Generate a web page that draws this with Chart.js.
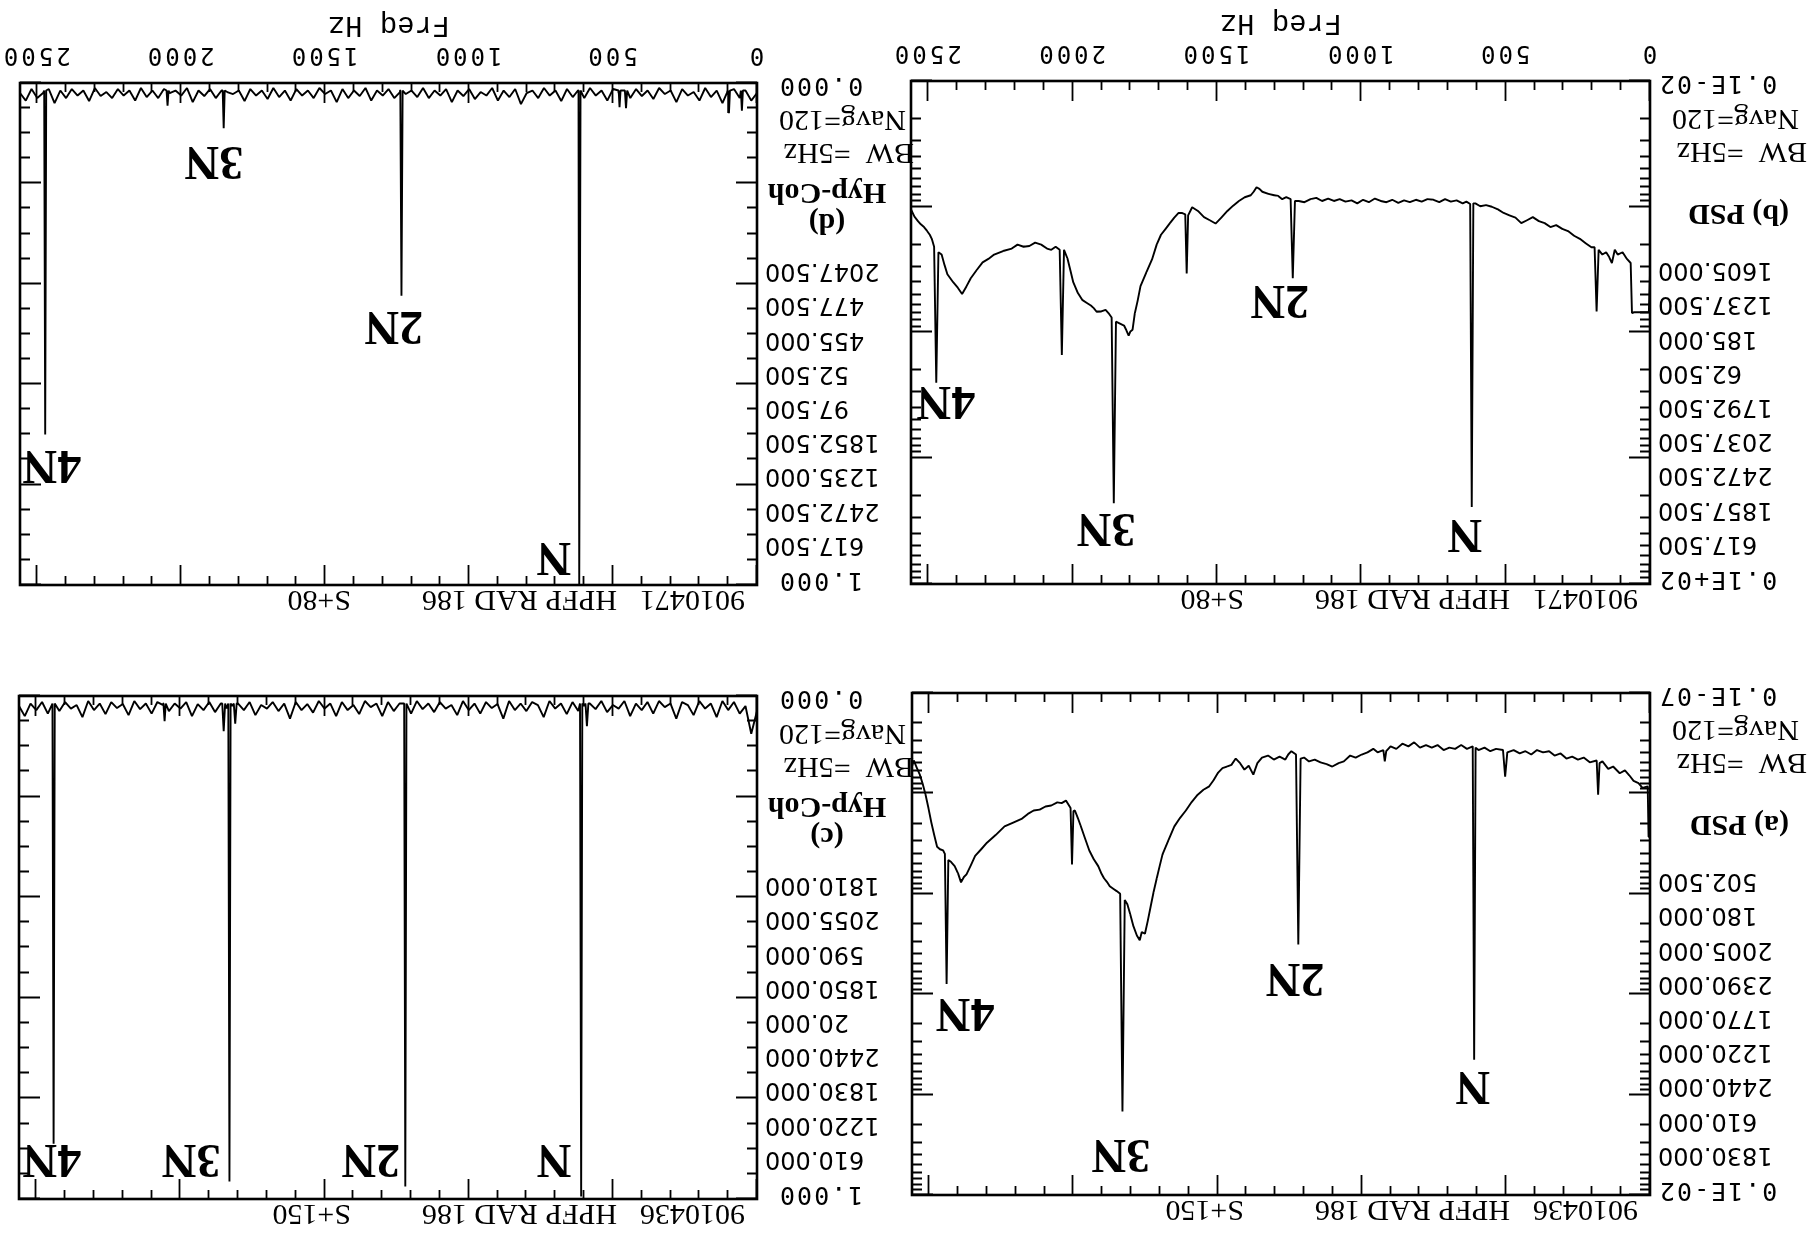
<!DOCTYPE html>
<html><head><meta charset="utf-8">
<script src="https://cdn.jsdelivr.net/npm/chart.js@4.4.1/dist/chart.umd.min.js"></script>
<style>
html,body{margin:0;padding:0;background:#fff;overflow:hidden;}
#fig{position:absolute;left:0;top:0;width:1816px;height:1246px;transform:rotate(180deg);transform-origin:50% 50%;background:#fff;}
#fig canvas{position:absolute;left:0;top:0;}
</style></head><body>
<div id="fig">
<canvas id="pa" width="1816" height="1246"></canvas>
<canvas id="pb" width="1816" height="1246"></canvas>
<canvas id="pc" width="1816" height="1246"></canvas>
<canvas id="pd" width="1816" height="1246"></canvas>
</div>
<script>
// ---------- DATA ----------
// (a) PSD, run 9010436  (frequency Hz, PSD)
const freqA = [0,5,8,26,40,57,72,87,105,128,145,165,175,180,185,209,230,250,270,290,310,331,350,371,392,412,432,452,473,495,502.5,510,534,554,574,595,605,610,615,635,655,676,696,716,737,757,777,798,818,838,859,880,900,915,920,925,945,960,980,1000,1021,1040,1062,1080,1102,1122,1143,1163,1183,1200,1212,1220,1228,1244,1255,1265,1285,1305,1325,1346,1362,1376,1392,1407,1422,1437,1452,1468,1483,1498,1514,1529,1549,1569,1590,1610,1630,1650,1670,1691,1701,1711,1722,1732,1742,1752,1763,1770,1780,1792,1803,1813,1822,1830,1838,1850,1862,1874,1884,1894,1904,1914,1930,1945,1960,1975,1985,1995,2000,2005,2010,2026,2041,2056,2077,2097,2117,2138,2158,2178,2209,2239,2270,2300,2320,2341,2356,2371,2380,2390,2400,2412,2425,2434,2440,2446,2452,2463,2473,2483,2493,2503,2513,2523,2533,2544,2554,2560];
const psdA = [2.7e-7,2.7e-7,8.5e-8,8.8e-8,7.9e-8,7.5e-8,6.6e-8,5.9e-8,6.3e-8,5.4e-8,5.7e-8,4.8e-8,5.0e-8,1.03e-7,4.7e-8,4.9e-8,4.4e-8,4.6e-8,4.3e-8,4.5e-8,4.0e-8,4.2e-8,3.8e-8,3.9e-8,3.7e-8,4.1e-8,3.8e-8,4.0e-8,3.7e-8,3.9e-8,6.8e-8,3.7e-8,3.6e-8,3.8e-8,3.5e-8,3.7e-8,3.5e-8,4.5e-5,3.4e-8,3.6e-8,3.3e-8,3.6e-8,3.5e-8,3.7e-8,3.3e-8,3.5e-8,3.3e-8,3.5e-8,3.1e-8,3.4e-8,3.2e-8,3.6e-8,3.4e-8,3.8e-8,4.8e-8,3.7e-8,3.9e-8,3.6e-8,3.9e-8,4.1e-8,4.4e-8,4.2e-8,4.8e-8,5.0e-8,5.4e-8,5.1e-8,4.9e-8,4.6e-8,4.8e-8,4.4e-8,4.5e-8,3.2e-6,4.1e-8,3.8e-8,4.1e-8,4.6e-8,4.3e-8,4.6e-8,4.2e-8,4.4e-8,5.0e-8,6.5e-8,5.3e-8,5.8e-8,5.0e-8,4.5e-8,5.2e-8,5.4e-8,5.6e-8,6.2e-8,7.4e-8,8.5e-8,9.2e-8,1.03e-7,1.22e-7,1.48e-7,1.75e-7,2.13e-7,2.9e-7,4.05e-7,5.3e-7,7.0e-7,9.6e-7,1.33e-6,1.85e-6,2.5e-6,2.4e-6,2.9e-6,2.6e-6,2.1e-6,1.6e-6,1.27e-6,1.15e-6,1.47e-4,1.0e-6,9.4e-7,8.9e-7,8.4e-7,7.6e-7,7.0e-7,6.2e-7,5.3e-7,4.5e-7,3.7e-7,2.8e-7,2.1e-7,1.75e-7,1.48e-7,1.5e-7,5.1e-7,1.4e-7,1.18e-7,1.25e-7,1.23e-7,1.32e-7,1.35e-7,1.45e-7,1.48e-7,1.6e-7,1.78e-7,1.95e-7,2.13e-7,2.6e-7,3.1e-7,3.6e-7,4.2e-7,5.2e-7,6.4e-7,6.8e-7,7.7e-7,6.3e-7,5.3e-7,4.8e-7,4.6e-7,7.9e-6,4.0e-7,3.7e-7,3.6e-7,3.4e-7,2.6e-7,1.95e-7,1.4e-7,1.03e-7,8.0e-8,6.5e-8,5.5e-8,4.7e-8,5.4e-8];

// (b) PSD, run 9010471
const freqB = [0,4,30,55,62.5,67,80,95,112,122,132,142,152,165,178,185,192,203,223,243,263,284,304,325,345,365,385,406,426,446,466,487,507,527,548,568,588,605,612,617.5,623,636,649,670,690,710,730,750,771,791,811,832,852,872,893,913,933,953,974,994,1014,1034,1055,1075,1095,1115,1136,1156,1176,1197,1217,1230,1237.5,1245,1260,1274,1288,1302,1322,1343,1353,1363,1373,1383,1404,1424,1444,1464,1485,1505,1525,1545,1566,1586,1600,1605,1610,1622,1633,1648,1663,1678,1694,1709,1724,1744,1765,1775,1785,1792.5,1800,1806,1814,1822,1836,1850,1857.5,1865,1876,1886,1901,1917,1927,1937,1952,1967,1983,1998,2008,2018,2030,2037.5,2045,2059,2074,2089,2109,2130,2150,2170,2191,2211,2241,2272,2292,2312,2333,2353,2368,2383,2398,2414,2424,2434,2444,2454,2465,2472.5,2480,2488,2495,2505,2515,2526,2536,2548,2560];
const psdB = [3.4e-2,6.9e-2,6.9e-2,6.9e-2,7.0e-2,2.8e-2,2.6e-2,2.3e-2,2.4e-2,2.2e-2,2.8e-2,2.5e-2,2.3e-2,2.4e-2,2.2e-2,6.8e-2,2.1e-2,2.1e-2,1.95e-2,1.8e-2,1.7e-2,1.56e-2,1.5e-2,1.4e-2,1.45e-2,1.35e-2,1.3e-2,1.21e-2,1.28e-2,1.35e-2,1.22e-2,1.17e-2,1.12e-2,1.05e-2,1.0e-2,9.7e-3,9.9e-3,9.4e-3,9.4e-3,2.44,9.5e-3,9.1e-3,9.4e-3,8.9e-3,9.1e-3,8.7e-3,9.2e-3,8.8e-3,8.7e-3,9.1e-3,8.8e-3,9.2e-3,8.9e-3,9.3e-3,8.8e-3,9.2e-3,9.0e-3,8.6e-3,9.2e-3,8.8e-3,9.4e-3,8.9e-3,9.1e-3,8.7e-3,9.0e-3,8.6e-3,9.0e-3,8.5e-3,8.7e-3,9.2e-3,9.0e-3,9.0e-3,3.7e-2,8.7e-3,8.4e-3,8.7e-3,8.2e-3,8.1e-3,7.9e-3,7.6e-3,7.2e-3,7.0e-3,7.6e-3,8.1e-3,8.4e-3,9.0e-3,9.8e-3,1.08e-2,1.22e-2,1.36e-2,1.28e-2,1.21e-2,1.08e-2,1.01e-2,1.17e-2,3.4e-2,1.15e-2,1.12e-2,1.12e-2,1.22e-2,1.35e-2,1.5e-2,1.67e-2,2.0e-2,2.58e-2,3.3e-2,4.28e-2,5.6e-2,7.1e-2,9.5e-2,9.8e-2,1.06e-1,9.6e-2,8.8e-2,8.5e-2,8.2e-2,2.28,7.6e-2,7.0e-2,6.6e-2,6.8e-2,6.84e-2,6.4e-2,6.1e-2,5.8e-2,5.5e-2,4.8e-2,3.98e-2,3.2e-2,2.58e-2,2.2e-2,1.51e-1,2.2e-2,2.08e-2,2.2e-2,2.15e-2,2.0e-2,1.93e-2,2.05e-2,2.08e-2,2.0e-2,2.15e-2,2.25e-2,2.4e-2,2.6e-2,2.77e-2,3.2e-2,3.7e-2,4.3e-2,4.94e-2,4.4e-2,3.98e-2,3.7e-2,3.44e-2,2.9e-2,2.4e-2,2.3e-2,2.51e-1,2.08e-2,1.8e-2,1.67e-2,1.55e-2,1.45e-2,1.38e-2,1.3e-2,1.2e-2,1.05e-2];

// Coherence: 20 Hz grid values plus the narrow lines
const cohGridHz = [0,20,40,60,80,100,120,140,160,180,
200,220,240,260,280,300,320,340,360,380,
400,420,440,460,480,500,520,540,560,580,
600,620,640,660,680,700,720,740,760,780,
800,820,840,860,880,900,920,940,960,980,
1000,1020,1040,1060,1080,1100,1120,1140,1160,1180,
1200,1220,1240,1260,1280,1300,1320,1340,1360,1380,
1400,1420,1440,1460,1480,1500,1520,1540,1560,1580,
1600,1620,1640,1660,1680,1700,1720,1740,1760,1780,
1800,1820,1840,1860,1880,1900,1920,1940,1960,1980,
2000,2020,2040,2060,2080,2100,2120,2140,2160,2180,
2200,2220,2240,2260,2280,2300,2320,2340,2360,2380,
2400,2420,2440,2460,2480,2500,2520,2540,2560];
const cohC = [0.03,0.075,0.02,0.035,0.012,0.028,0.01,0.042,0.015,0.025,
0.01,0.038,0.018,0.012,0.045,0.015,0.022,0.01,0.035,0.012,
0.028,0.015,0.04,0.01,0.025,0.018,0.032,0.01,0.026,0.015,
0.02,0.03,0.012,0.036,0.015,0.025,0.01,0.042,0.018,0.012,
0.03,0.015,0.028,0.01,0.045,0.016,0.024,0.012,0.035,0.015,
0.028,0.01,0.038,0.018,0.025,0.012,0.032,0.015,0.026,0.01,
0.035,0.02,0.015,0.03,0.012,0.04,0.015,0.022,0.01,0.036,
0.018,0.028,0.012,0.04,0.015,0.025,0.01,0.033,0.016,0.028,
0.012,0.045,0.015,0.03,0.012,0.025,0.018,0.038,0.012,0.028,
0.015,0.02,0.025,0.015,0.032,0.012,0.028,0.016,0.04,0.012,
0.025,0.015,0.03,0.018,0.012,0.035,0.015,0.026,0.01,0.038,
0.016,0.024,0.012,0.036,0.015,0.028,0.01,0.042,0.018,0.025,
0.012,0.03,0.02,0.035,0.012,0.028,0.015,0.04,0.02];
const lineHzC  = [585,590,595,606,610,614,1216,1220,1224,1805,1810,1815,1826,1830,1834,1845,1850,1855,2051,2055,2059,2436,2440,2444];
const lineValC = [0.015,0.06,0.015,0.015,0.995,0.015,0.015,0.975,0.015,0.015,0.055,0.015,0.015,0.965,0.015,0.015,0.07,0.015,0.015,0.05,0.015,0.015,0.89,0.015];
const cohD = [0.02,0.035,0.015,0.03,0.012,0.025,0.04,0.015,0.028,0.01,
0.035,0.018,0.025,0.012,0.038,0.015,0.022,0.01,0.032,0.015,
0.026,0.012,0.03,0.015,0.02,0.012,0.035,0.015,0.025,0.01,
0.03,0.015,0.028,0.012,0.036,0.015,0.025,0.01,0.03,0.015,
0.02,0.042,0.012,0.028,0.015,0.035,0.01,0.025,0.018,0.032,
0.012,0.026,0.015,0.038,0.012,0.025,0.015,0.03,0.01,0.028,
0.015,0.022,0.018,0.03,0.012,0.025,0.015,0.035,0.01,0.026,
0.015,0.03,0.012,0.038,0.015,0.022,0.01,0.03,0.015,0.025,
0.012,0.035,0.015,0.028,0.01,0.032,0.015,0.025,0.012,0.036,
0.015,0.022,0.018,0.015,0.03,0.012,0.026,0.015,0.038,0.01,
0.025,0.015,0.02,0.012,0.03,0.015,0.028,0.01,0.035,0.015,
0.025,0.012,0.03,0.018,0.026,0.01,0.036,0.015,0.025,0.012,
0.03,0.015,0.04,0.012,0.02,0.03,0.012,0.035,0.02];
const lineHzD  = [49,52.5,56,94,97.5,101,451,455,459,474,477.5,481,613,617.5,622,1231,1235,1239,1849,1852.5,1856,2044,2047.5,2051,2469,2472.5,2476];
const lineValD = [0.015,0.055,0.015,0.015,0.06,0.015,0.015,0.05,0.015,0.015,0.048,0.015,0.015,1.0,0.015,0.015,0.424,0.015,0.015,0.09,0.015,0.015,0.045,0.015,0.015,0.70,0.015];

// Peak listings printed beside each panel
const peaksA = ['1830.000','610.000','2440.000','1220.000','1770.000','2390.000','2005.000','180.000','502.500'];
const peaksB = ['617.500','1857.500','2472.500','2037.500','1792.500','62.500','185.000','1237.500','1605.000'];
const peaksC = ['610.000','1220.000','1830.000','2440.000','20.000','1850.000','590.000','2055.000','1810.000'];
const peaksD = ['617.500','2472.500','1235.000','1852.500','97.500','52.500','455.000','477.500','2047.500'];

// Harmonic labels: text, frequency, value
const harmText = ['N','2N','3N','4N'];
const harmHzA = [614,1231,1835,2376], harmValA = [8e-5,6.6e-6,3.8e-4,1.5e-5];
const harmHzB = [641,1282,1884,2439], harmValB = [3.9,5.4e-2,3.5,0.34];
const harmHzC = [704,1339,1963,2446], harmValC = [0.918,0.918,0.918,0.918];
const harmHzD = [705,1261,1886,2449], harmValD = [0.942,0.48,0.153,0.757];

// Axis ticks
const xTickLabels = [0,500,1000,1500,2000,2500];
const xMinorHz = [0,100,200,300,400,500,600,700,800,900,1000,1100,1200,1300,1400,1500,1600,1700,1800,1900,2000,2100,2200,2300,2400,2500];
const cohMajor = [0,0.2,0.4,0.6,0.8,1.0];
const cohMinor = [0.05,0.1,0.15,0.25,0.3,0.35,0.45,0.5,0.55,0.65,0.7,0.75,0.85,0.9,0.95];

// ---------- DRAWING ----------
const SERIF = '"Liberation Serif","Times New Roman",serif';
const MONO = '"DejaVu Sans Mono",monospace';
const SANS = '"DejaVu Sans",sans-serif';
const COUR = '"Liberation Mono","Courier New",monospace';

function txt(ctx, s, x, y, font, align, spacing, baseline){
  ctx.save();
  ctx.font = font; ctx.fillStyle = '#000';
  ctx.textAlign = align || 'left'; ctx.textBaseline = baseline || 'middle';
  if ('letterSpacing' in ctx) ctx.letterSpacing = (spacing||0) + 'px';
  ctx.fillText(s, x, y);
  ctx.restore();
}

function logTicks(min, max){
  const maj = [], mnr = [];
  const e0 = Math.round(Math.log10(min)), e1 = Math.round(Math.log10(max));
  for (let e = e0; e <= e1; e++){
    maj.push(Math.pow(10, e));
    if (e < e1) for (let m = 2; m <= 9; m++) mnr.push(m * Math.pow(10, e));
  }
  return {maj, mnr};
}

function mergeLines(gridHz, gridVals, hz, vals){
  const pts = gridHz.filter(x => !hz.includes(x)).map(x => ({x, y: gridVals[gridHz.indexOf(x)]}));
  hz.forEach((x, i) => pts.push({x, y: vals[i]}));
  return pts.sort((a, b) => a.x - b.x);
}

function makePanel(p){
  const W = 1816, H = 1246;
  const isPsd = p.kind === 'psd';
  const yt = isPsd ? logTicks(p.yMin, p.yMax) : {maj: cohMajor, mnr: cohMinor};
  const deco = {
    id: 'deco_' + p.id,
    afterDraw(chart){
      const ctx = chart.ctx;
      const {left, right, top, bottom} = chart.chartArea;
      const xs = chart.scales.x, ys = chart.scales.y;
      ctx.save();
      ctx.strokeStyle = '#000'; ctx.lineWidth = 1.8; ctx.lineCap = 'butt';
      ctx.beginPath();
      xMinorHz.forEach(v => {
        const px = Math.round(xs.getPixelForValue(v)) + 0.5;
        const len = xTickLabels.includes(v) ? 20 : 9;
        ctx.moveTo(px, bottom); ctx.lineTo(px, bottom - len);
        ctx.moveTo(px, top); ctx.lineTo(px, top + len);
      });
      yt.maj.forEach(v => {
        const py = Math.round(ys.getPixelForValue(v)) + 0.5;
        ctx.moveTo(left, py); ctx.lineTo(left + 21, py);
        ctx.moveTo(right, py); ctx.lineTo(right - 21, py);
      });
      yt.mnr.forEach(v => {
        const py = Math.round(ys.getPixelForValue(v)) + 0.5;
        ctx.moveTo(left, py); ctx.lineTo(left + 10, py);
        ctx.moveTo(right, py); ctx.lineTo(right - 10, py);
      });
      ctx.stroke();
      ctx.lineWidth = 2.6;
      ctx.strokeRect(left, top, right - left, bottom - top);
      ctx.restore();

      // header above the box
      const hb = top - 6;
      txt(ctx, p.header[0], left + 12, hb, '30px ' + SERIF, 'left', 0, 'alphabetic');
      txt(ctx, p.header[1], left + 140, hb, '30px ' + SERIF, 'left', 0, 'alphabetic');
      txt(ctx, p.header[2], left + 406, hb, '30px ' + SERIF, 'left', 0, 'alphabetic');

      // left column
      const rOff = isPsd ? 8 : 21;
      txt(ctx, p.topLabel, left - rOff, top + 5, '25px ' + MONO, 'right', 2);
      txt(ctx, p.bottomLabel, left - rOff, bottom - 2, '25px ' + MONO, 'right', 2);
      p.peaks.forEach((s, i) => txt(ctx, s, left - 8, top + 41 + i * 34.2, '24px ' + SANS, 'right', 0));
      if (isPsd){
        txt(ctx, p.title, left - 139, top + 371, 'bold 30px ' + SERIF, 'left');
      } else {
        txt(ctx, p.title, left - 70, top + 363, 'bold 30px ' + SERIF, 'center');
        txt(ctx, 'Hyp-Coh', left - 70, top + 393, 'bold 30px ' + SERIF, 'center');
      }
      txt(ctx, 'BW  =5Hz', left - 157, top + 433, '30px ' + SERIF, 'left');
      txt(ctx, 'Navg=120', left - 149, top + 466, '30px ' + SERIF, 'left');

      // x tick labels and title
      if (p.xLabels){
        xTickLabels.forEach(v => txt(ctx, String(v), xs.getPixelForValue(v) + 1.5, bottom + 29, '24px ' + MONO, 'center', 3));
        txt(ctx, 'Freq Hz', (left + right) / 2, bottom + 58, '29px ' + COUR, 'center');
      }

      // harmonic labels
      harmText.forEach((s, i) => {
        txt(ctx, s, xs.getPixelForValue(p.harmHz[i]), ys.getPixelForValue(p.harmVal[i]), 'bold 48px ' + SERIF, 'center');
      });
    }
  };
  new Chart(document.getElementById(p.id), {
    type: 'line',
    data: { datasets: [{ data: p.points, borderColor: '#000', borderWidth: 1.9, pointRadius: 0,
      tension: 0, fill: false, borderJoinStyle: 'bevel', spanGaps: true }] },
    options: {
      animation: false, responsive: false, maintainAspectRatio: false, events: [],
      parsing: false, normalized: true,
      layout: { padding: { left: p.L, top: p.T, right: W - p.R, bottom: H - p.B } },
      plugins: { legend: { display: false }, tooltip: { enabled: false } },
      scales: {
        x: { type: 'linear', min: 0, max: 2560, display: false },
        y: isPsd ? { type: 'logarithmic', min: p.yMin, max: p.yMax, display: false }
                 : { type: 'linear', min: 0, max: 1, display: false }
      }
    },
    plugins: [deco]
  });
}

const headA = ['9010436', 'HPFP RAD 186', 'S+150'];
const headB = ['9010471', 'HPFP RAD 186', 'S+80'];

makePanel({ id: 'pa', kind: 'psd', L: 166, R: 904, T: 51, B: 553, yMin: 1e-8, yMax: 1e-3,
  points: freqA.map((x, i) => ({x, y: psdA[i]})), topLabel: '0.1E-02', bottomLabel: '0.1E-07',
  peaks: peaksA, title: '(a) PSD', header: headA, xLabels: false, harmHz: harmHzA, harmVal: harmValA });
makePanel({ id: 'pb', kind: 'psd', L: 166, R: 905, T: 662, B: 1165, yMin: 1e-3, yMax: 10,
  points: freqB.map((x, i) => ({x, y: psdB[i]})), topLabel: '0.1E+02', bottomLabel: '0.1E-02',
  peaks: peaksB, title: '(b) PSD', header: headB, xLabels: true, harmHz: harmHzB, harmVal: harmValB });
makePanel({ id: 'pc', kind: 'coh', L: 1059, R: 1797, T: 47, B: 550,
  points: mergeLines(cohGridHz, cohC, lineHzC, lineValC), topLabel: '1.000', bottomLabel: '0.000',
  peaks: peaksC, title: '(c)', header: headA, xLabels: false, harmHz: harmHzC, harmVal: harmValC });
makePanel({ id: 'pd', kind: 'coh', L: 1059, R: 1796, T: 661, B: 1163,
  points: mergeLines(cohGridHz, cohD, lineHzD, lineValD), topLabel: '1.000', bottomLabel: '0.000',
  peaks: peaksD, title: '(d)', header: headB, xLabels: true, harmHz: harmHzD, harmVal: harmValD });
</script>
</body></html>
